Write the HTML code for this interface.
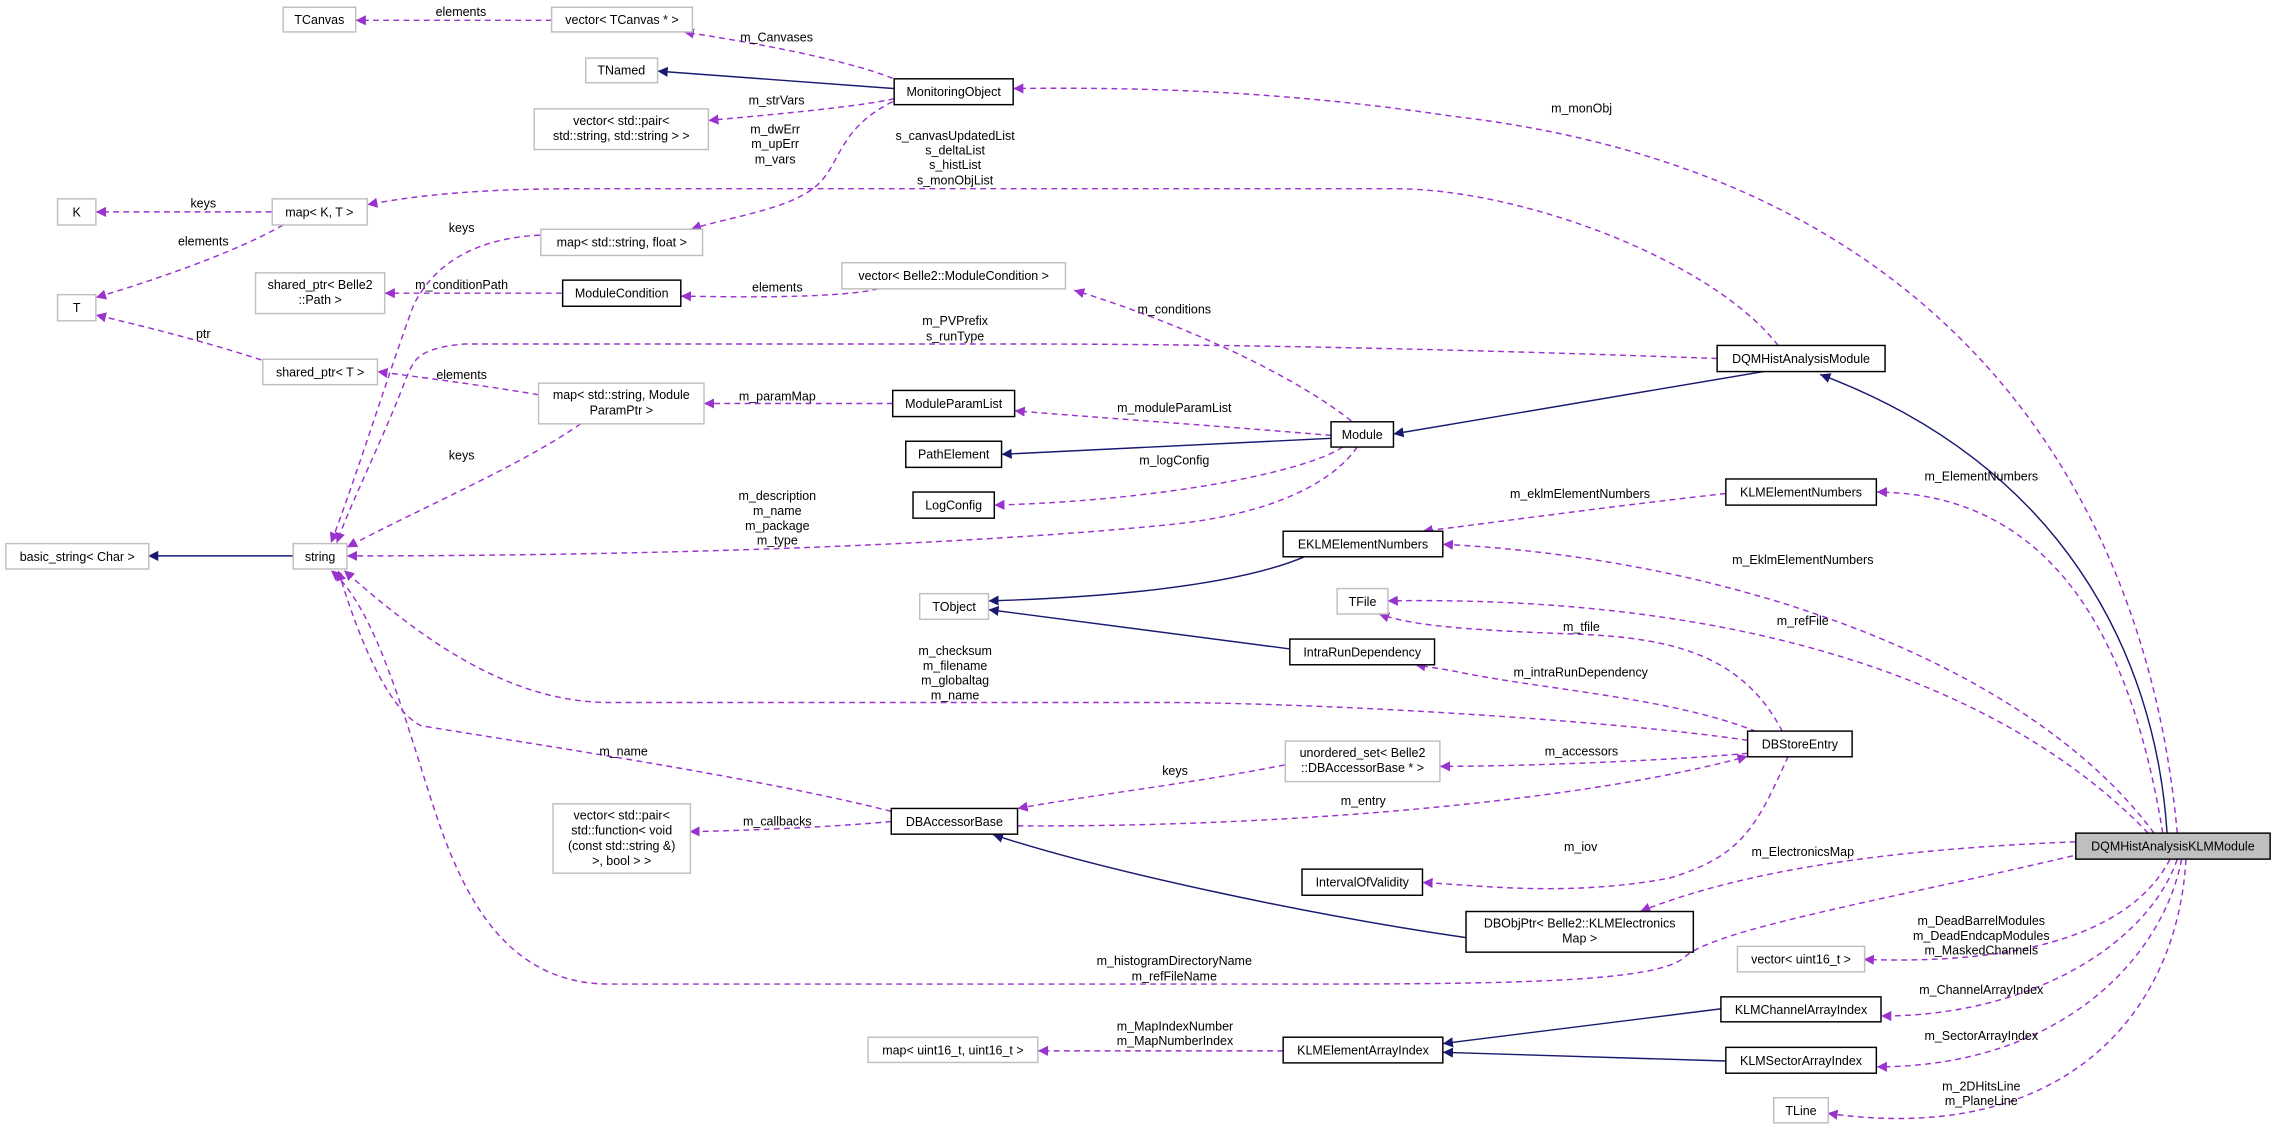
<!DOCTYPE html>
<html><head><meta charset="utf-8"><style>
html,body{margin:0;padding:0;background:#fff;}
svg{display:block;}
text{font-family:"Liberation Sans",sans-serif;font-size:8.6px;fill:#000;}
.g{fill:#fff;stroke:#bfbfbf;stroke-width:1;}
.b{fill:#fff;stroke:#000;stroke-width:1;}
.d{fill:none;stroke:#9a32cd;stroke-width:1;stroke-dasharray:4,3;}
.s{fill:none;stroke:#191970;stroke-width:1;}
</style></head><body>
<svg width="2276" height="1142" viewBox="0 0 1568 786.8" xmlns="http://www.w3.org/2000/svg">
<defs>
<marker id="ap" viewBox="0 0 10 10" refX="10" refY="5" markerWidth="7" markerHeight="7" markerUnits="userSpaceOnUse" orient="auto"><path d="M0,0 L10,5 L0,10 z" fill="#9a32cd"/></marker>
<marker id="ab" viewBox="0 0 10 10" refX="10" refY="5" markerWidth="7" markerHeight="7" markerUnits="userSpaceOnUse" orient="auto"><path d="M0,0 L10,5 L0,10 z" fill="#191970"/></marker>
</defs>
<g marker-end="url(#ap)">
<path class="d" d="M380,14 L245,14"/>
<path class="d" d="M615,54 C580,40 510,28 471,22"/>
<path class="d" d="M616,68 C590,74 520,80 488,83"/>
<path class="d" d="M615,70 C575,90 580,115 560,130 C540,145 500,150 476,158"/>
<path class="d" d="M1225,238 C1180,180 1050,130 960,130 L400,130 C320,130 280,136 253,141"/>
<path class="d" d="M1500,574 C1480,350 1350,120 1000,80 C880,62 780,60 698,61"/>
<path class="d" d="M187,146 L66,146"/>
<path class="d" d="M195,155 C160,175 100,195 66,205"/>
<path class="d" d="M180,248 C140,235 100,225 66,217"/>
<path class="d" d="M372,162 C330,164 300,180 285,210 C270,250 245,330 228,374"/>
<path class="d" d="M387,202 L265,202"/>
<path class="d" d="M605,199 C580,205 520,205 469,204"/>
<path class="d" d="M931,290 C880,250 790,215 740,200"/>
<path class="d" d="M1183,247 C1100,244 900,237 700,237 L320,237 C285,240 285,250 280,260 C265,300 240,350 232,374"/>
<path class="d" d="M371,272 C330,265 290,260 260,256"/>
<path class="d" d="M615,278 L485,278"/>
<path class="d" d="M917,300 C860,295 760,288 699,283"/>
<path class="d" d="M925,308 C900,325 800,345 685,348"/>
<path class="d" d="M935,308 C920,330 880,355 800,362 C700,372 500,383 239,383"/>
<path class="d" d="M400,292 C360,320 290,350 239,377"/>
<path class="d" d="M1189,340 C1100,350 1030,360 980,366"/>
<path class="d" d="M1490,574 C1470,450 1420,340 1293,339"/>
<path class="d" d="M1484,574 C1400,460 1200,385 994,375"/>
<path class="d" d="M1480,574 C1380,470 1200,410 956,414"/>
<path class="d" d="M1228,504 C1200,450 1150,440 1090,437 C1000,434 970,430 950,423"/>
<path class="d" d="M1210,504 C1150,480 1060,475 1000,462 L975,458"/>
<path class="d" d="M1204,510 C1100,495 900,484 800,484 L420,484 C350,484 290,440 237,393"/>
<path class="d" d="M614,559 C520,535 350,510 290,500 C270,490 250,450 233,393"/>
<path class="d" d="M1435,588 C1300,620 1180,640 1160,660 C1140,676 1050,678 900,678 L420,678 C350,678 320,620 300,560 C280,500 260,420 228,393"/>
<path class="d" d="M1204,519 C1150,524 1050,528 992,528"/>
<path class="d" d="M885,527 C820,540 750,548 701,557"/>
<path class="d" d="M701,569 C900,570 1100,550 1204,521"/>
<path class="d" d="M614,566 C570,570 520,572 475,573"/>
<path class="d" d="M1232,521 C1210,570 1200,590 1150,605 C1080,618 1020,610 980,608"/>
<path class="d" d="M1430,580 C1300,585 1200,600 1130,628"/>
<path class="d" d="M1495,592 C1470,640 1400,665 1284,661"/>
<path class="d" d="M1500,592 C1480,650 1400,700 1296,700"/>
<path class="d" d="M884,724 L715,724"/>
<path class="d" d="M1503,592 C1490,660 1420,735 1293,735"/>
<path class="d" d="M1506,592 C1500,700 1420,790 1259,767"/>
</g>
<g marker-end="url(#ab)">
<path class="s" d="M616,61 L453,49"/>
<path class="s" d="M202,383 L102,383"/>
<path class="s" d="M1215,256 L960,299"/>
<path class="s" d="M917,302 L690,313"/>
<path class="s" d="M1493,574 C1485,450 1420,320 1254,258"/>
<path class="s" d="M900,383 C850,405 750,412 681,414"/>
<path class="s" d="M888,447 L681,420"/>
<path class="s" d="M1010,646 C900,630 760,600 684,575"/>
<path class="s" d="M1186,695 L994,719"/>
<path class="s" d="M1189,731 L994,725"/>
</g>
<rect class="g" x="195" y="5" width="50" height="17"/><text x="220" y="16.5" text-anchor="middle">TCanvas</text>
<rect class="g" x="380" y="5" width="97" height="17"/><text x="428.5" y="16.5" text-anchor="middle">vector&lt; TCanvas * &gt;</text>
<rect class="g" x="403.5" y="40" width="49.5" height="17"/><text x="428" y="51.5" text-anchor="middle">TNamed</text>
<rect class="b" x="616" y="54.3" width="82" height="17.8"/><text x="657" y="66.3" text-anchor="middle">MonitoringObject</text>
<rect class="g" x="368" y="75" width="120" height="28"/><text x="428" y="86" text-anchor="middle">vector&lt; std::pair&lt;</text><text x="428" y="96.5" text-anchor="middle">std::string, std::string &gt; &gt;</text>
<rect class="g" x="39.6" y="137" width="26.4" height="18"/><text x="52.8" y="149" text-anchor="middle">K</text>
<rect class="g" x="187.5" y="137" width="65.5" height="18"/><text x="220" y="149" text-anchor="middle">map&lt; K, T &gt;</text>
<rect class="g" x="372.6" y="158" width="111.4" height="18"/><text x="428.3" y="170" text-anchor="middle">map&lt; std::string, float &gt;</text>
<rect class="g" x="39.6" y="203" width="26.4" height="18"/><text x="52.8" y="215" text-anchor="middle">T</text>
<rect class="g" x="176" y="188" width="89" height="28"/><text x="220.5" y="199" text-anchor="middle">shared_ptr&lt; Belle2</text><text x="220.5" y="209.5" text-anchor="middle">::Path &gt;</text>
<rect class="b" x="387.6" y="193" width="81.4" height="18"/><text x="428.3" y="205" text-anchor="middle">ModuleCondition</text>
<rect class="g" x="580" y="181" width="154" height="18"/><text x="657" y="193" text-anchor="middle">vector&lt; Belle2::ModuleCondition &gt;</text>
<rect class="g" x="181" y="247.5" width="79" height="17.5"/><text x="220.5" y="259.5" text-anchor="middle">shared_ptr&lt; T &gt;</text>
<rect class="g" x="371" y="264" width="114" height="28"/><text x="428" y="275" text-anchor="middle">map&lt; std::string, Module</text><text x="428" y="285.5" text-anchor="middle">ParamPtr &gt;</text>
<rect class="b" x="615" y="269" width="84" height="18"/><text x="657" y="281" text-anchor="middle">ModuleParamList</text>
<rect class="b" x="624" y="304" width="66" height="18"/><text x="657" y="316" text-anchor="middle">PathElement</text>
<rect class="b" x="629" y="339" width="56" height="18"/><text x="657" y="351" text-anchor="middle">LogConfig</text>
<rect class="g" x="4" y="374.5" width="98.5" height="17.5"/><text x="53.2" y="386.5" text-anchor="middle">basic_string&lt; Char &gt;</text>
<rect class="g" x="202" y="374.5" width="37" height="17.5"/><text x="220.5" y="386.5" text-anchor="middle">string</text>
<rect class="b" x="1183" y="238" width="115.7" height="18"/><text x="1240.8" y="250" text-anchor="middle">DQMHistAnalysisModule</text>
<rect class="b" x="917" y="290.6" width="43" height="17.4"/><text x="938.5" y="302.5" text-anchor="middle">Module</text>
<rect class="b" x="1189" y="330" width="103.7" height="18"/><text x="1240.8" y="342" text-anchor="middle">KLMElementNumbers</text>
<rect class="b" x="884" y="366" width="110" height="17.6"/><text x="939" y="378" text-anchor="middle">EKLMElementNumbers</text>
<rect class="g" x="633.6" y="409" width="47.4" height="17.7"/><text x="657.3" y="421" text-anchor="middle">TObject</text>
<rect class="g" x="921.2" y="405.5" width="35" height="17.5"/><text x="938.7" y="417.5" text-anchor="middle">TFile</text>
<rect class="b" x="888.6" y="440.3" width="99.7" height="17.7"/><text x="938.5" y="452.3" text-anchor="middle">IntraRunDependency</text>
<rect class="b" x="1204" y="503.7" width="72" height="17.7"/><text x="1240" y="515.7" text-anchor="middle">DBStoreEntry</text>
<rect class="g" x="885.5" y="510.6" width="106.5" height="27.9"/><text x="938.7" y="521.5" text-anchor="middle">unordered_set&lt; Belle2</text><text x="938.7" y="532" text-anchor="middle">::DBAccessorBase * &gt;</text>
<rect class="b" x="614" y="557" width="87" height="17.7"/><text x="657.5" y="569" text-anchor="middle">DBAccessorBase</text>
<rect class="g" x="381" y="553.8" width="94.6" height="47.8"/><text x="428.3" y="564.5" text-anchor="middle">vector&lt; std::pair&lt;</text><text x="428.3" y="575" text-anchor="middle">std::function&lt; void</text><text x="428.3" y="585.5" text-anchor="middle">(const std::string &amp;)</text><text x="428.3" y="596" text-anchor="middle">&gt;, bool &gt; &gt;</text>
<rect class="b" x="897" y="598.8" width="83" height="18"/><text x="938.5" y="610.8" text-anchor="middle">IntervalOfValidity</text>
<rect x="1430.1" y="574" width="133.9" height="17.9" fill="#bfbfbf" stroke="#000" stroke-width="1"/><text x="1497" y="586" text-anchor="middle">DQMHistAnalysisKLMModule</text>
<rect class="b" x="1010" y="628" width="156.6" height="28"/><text x="1088.3" y="639" text-anchor="middle">DBObjPtr&lt; Belle2::KLMElectronics</text><text x="1088.3" y="649.5" text-anchor="middle">Map &gt;</text>
<rect class="g" x="1197" y="652" width="87.6" height="17.6"/><text x="1240.8" y="664" text-anchor="middle">vector&lt; uint16_t &gt;</text>
<rect class="b" x="1185.6" y="686.8" width="110.3" height="17.2"/><text x="1240.8" y="698.5" text-anchor="middle">KLMChannelArrayIndex</text>
<rect class="g" x="598" y="714.6" width="117" height="17.4"/><text x="656.5" y="726.5" text-anchor="middle">map&lt; uint16_t, uint16_t &gt;</text>
<rect class="b" x="884" y="714.6" width="110" height="17.7"/><text x="939" y="726.6" text-anchor="middle">KLMElementArrayIndex</text>
<rect class="b" x="1189" y="721.6" width="103.7" height="17.8"/><text x="1240.8" y="733.6" text-anchor="middle">KLMSectorArrayIndex</text>
<rect class="g" x="1222" y="756.3" width="37.6" height="17.3"/><text x="1240.8" y="768.2" text-anchor="middle">TLine</text>
<g text-anchor="middle">
<text x="317.5" y="11">elements</text>
<text x="535" y="28.5">m_Canvases</text>
<text x="535" y="72">m_strVars</text>
<text x="534" y="92">m_dwErr</text><text x="534" y="102">m_upErr</text><text x="534" y="112.5">m_vars</text>
<text x="658" y="96.5">s_canvasUpdatedList</text><text x="658" y="106.5">s_deltaList</text><text x="658" y="116.5">s_histList</text><text x="658" y="127">s_monObjList</text>
<text x="1089.6" y="77.4">m_monObj</text>
<text x="140" y="143">keys</text>
<text x="140" y="169">elements</text>
<text x="318" y="160">keys</text>
<text x="318" y="199">m_conditionPath</text>
<text x="535.5" y="201">elements</text>
<text x="809" y="216">m_conditions</text>
<text x="658" y="224">m_PVPrefix</text><text x="658" y="234.5">s_runType</text>
<text x="140" y="233">ptr</text>
<text x="318" y="261">elements</text>
<text x="535.5" y="276">m_paramMap</text>
<text x="809" y="284">m_moduleParamList</text>
<text x="809" y="320">m_logConfig</text>
<text x="318" y="316.5">keys</text>
<text x="535.5" y="344.6">m_description</text><text x="535.5" y="355">m_name</text><text x="535.5" y="365">m_package</text><text x="535.5" y="375">m_type</text>
<text x="1088.5" y="343">m_eklmElementNumbers</text>
<text x="1365" y="331">m_ElementNumbers</text>
<text x="1242" y="388.6">m_EklmElementNumbers</text>
<text x="1089.5" y="434.8">m_tfile</text>
<text x="1242" y="430.5">m_refFile</text>
<text x="658" y="451.2">m_checksum</text><text x="658" y="461.5">m_filename</text><text x="658" y="471.7">m_globaltag</text><text x="658" y="481.9">m_name</text>
<text x="1089" y="466">m_intraRunDependency</text>
<text x="429.6" y="520.5">m_name</text>
<text x="809.5" y="533.8">keys</text>
<text x="1089.5" y="520.5">m_accessors</text>
<text x="939.2" y="554.6">m_entry</text>
<text x="535.5" y="568.6">m_callbacks</text>
<text x="1089" y="586.2">m_iov</text>
<text x="1242" y="589.8">m_ElectronicsMap</text>
<text x="1365" y="637.4">m_DeadBarrelModules</text><text x="1365" y="647.6">m_DeadEndcapModules</text><text x="1365" y="657.8">m_MaskedChannels</text>
<text x="809" y="665">m_histogramDirectoryName</text><text x="809" y="675.5">m_refFileName</text>
<text x="1365" y="684.7">m_ChannelArrayIndex</text>
<text x="809.5" y="710">m_MapIndexNumber</text><text x="809.5" y="720">m_MapNumberIndex</text>
<text x="1365" y="716.4">m_SectorArrayIndex</text>
<text x="1365" y="751.4">m_2DHitsLine</text><text x="1365" y="761.4">m_PlaneLine</text>
</g>
</svg>
</body></html>
